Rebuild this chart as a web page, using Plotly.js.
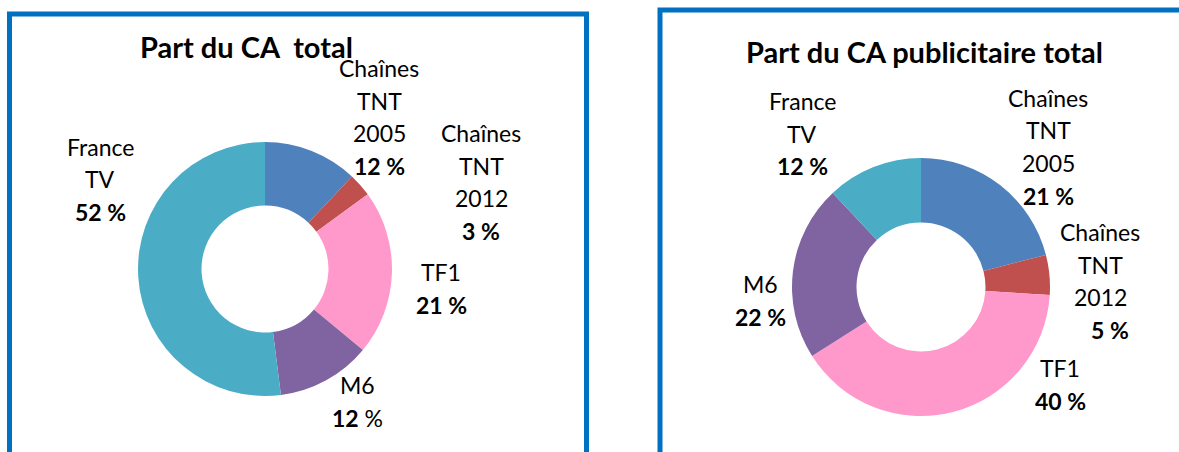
<!DOCTYPE html>
<html><head><meta charset="utf-8">
<script src="https://cdn.plot.ly/plotly-3.0.1.min.js"></script>
<style>html,body{margin:0;padding:0;background:#fff}#c{width:1179px;height:452px}</style>
</head><body><div id="c"></div>
<script>
// ---- data ----
var segments = ["Chaînes TNT 2005", "Chaînes TNT 2012", "TF1", "M6", "France TV"];
var labelLines = [["Chaînes","TNT","2005"],["Chaînes","TNT","2012"],["TF1"],["M6"],["France","TV"]];
var shareTotal = [12, 3, 21, 12, 52];
var shareAdvertising = [21, 5, 40, 22, 12];
var sliceColors = ["#4F81BD", "#C0504D", "#FF99CC", "#8064A2", "#4BACC6"];
var titles = ["Part du CA  total", "Part du CA publicitaire total"];

// ---- layout helpers ----
var W = 1179, H = 452;
function px(x){return x/W;}
function py(y){return 1 - y/H;}

var FONT = "Lato, 'Open Sans', sans-serif";
var LFS = 23;
var LINE = 32.5;

function pieTrace(values, x0, x1, y0, y1){
  return {
    type: "pie", labels: segments, values: values, sort: false,
    direction: "clockwise", rotation: 0, hole: 0.5,
    marker: {colors: sliceColors, line: {width: 0}},
    textinfo: "none", hoverinfo: "label+percent", showlegend: false,
    domain: {x: [px(x0), px(x1)], y: [py(y1), py(y0)]}
  };
}

// label anchor positions (centre of the first line), per chart
var posLeft = [[379, 68],[481, 133],[441, 272],[357, 385],[100, 147]];
var posRight = [[1048, 98],[1100, 232],[1060, 368],[760, 284],[802, 101]];
var pctOffsetRight = [0, 10, 0, 0, 0];
var pctBoldNumberOnly = [[false,false,false,true,false],[false,false,false,false,false]];

var annotations = [];
function addLine(x, y, text){
  annotations.push({
    xref:"paper", yref:"paper", x:px(x), y:py(y),
    xanchor:"center", yanchor:"middle", showarrow:false, align:"center",
    text: text, font:{family:FONT, size:LFS, color:"#000"}
  });
}
function addLabels(values, pos, chartIdx, pctOff){
  for (var i=0;i<segments.length;i++){
    var lines = labelLines[i];
    for (var k=0;k<lines.length;k++) addLine(pos[i][0], pos[i][1] + k*LINE, lines[k]);
    var pct = pctBoldNumberOnly[chartIdx][i] ? "<b>"+values[i]+"</b> %" : "<b>"+values[i]+" %</b>";
    addLine(pos[i][0] + (pctOff ? pctOff[i] : 0), pos[i][1] + lines.length*LINE, pct);
  }
}
addLabels(shareTotal, posLeft, 0, null);
addLabels(shareAdvertising, posRight, 1, pctOffsetRight);
annotations.push({xref:"paper",yref:"paper",x:px(246),y:py(46),xanchor:"center",yanchor:"middle",showarrow:false,
  text:"<b>"+titles[0]+"</b>", font:{family:FONT,size:29,color:"#000"}});
annotations.push({xref:"paper",yref:"paper",x:px(924),y:py(52),xanchor:"center",yanchor:"middle",showarrow:false,
  text:"<b>"+titles[1]+"</b>", font:{family:FONT,size:29,color:"#000"}});

var shapes = [
  {type:"rect", xref:"paper", yref:"paper", x0:px(9.5), x1:px(586.5), y0:py(470), y1:py(14), line:{color:"#0070C0", width:5}, layer:"above"},
  {type:"rect", xref:"paper", yref:"paper", x0:px(660), x1:px(1200), y0:py(470), y1:py(10), line:{color:"#0070C0", width:5}, layer:"above"}
];

var data = [pieTrace(shareTotal, 138, 392, 142, 396), pieTrace(shareAdvertising, 792, 1050, 158, 416)];
var layout = {width:W, height:H, margin:{l:0,r:0,t:0,b:0}, paper_bgcolor:"#fff",
  annotations:annotations, shapes:shapes, font:{family:FONT}};
Plotly.newPlot("c", data, layout, {staticPlot:true, displayModeBar:false});
</script></body></html>
